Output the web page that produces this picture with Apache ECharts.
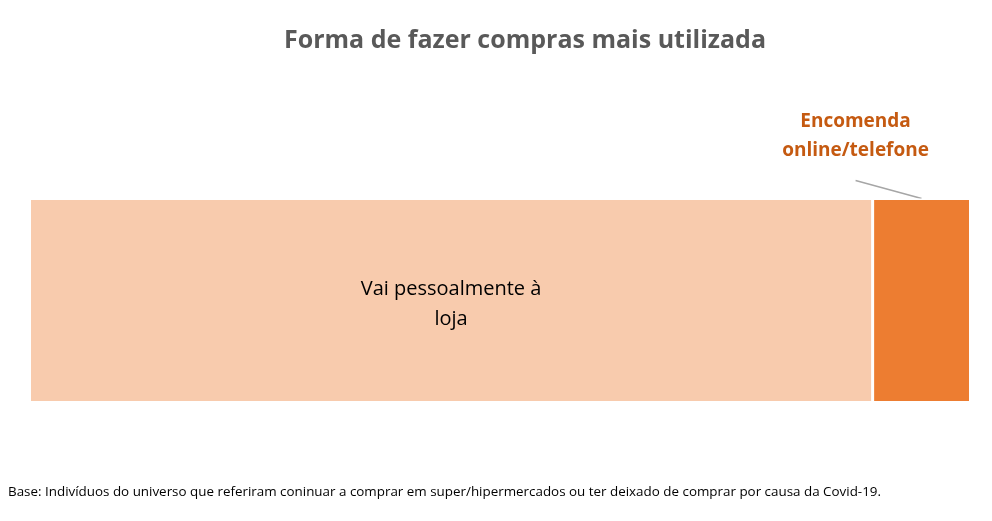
<!DOCTYPE html>
<html>
<head>
<meta charset="utf-8">
<script src="https://cdn.jsdelivr.net/npm/echarts@6/dist/echarts.min.js"></script>
<style>
  html, body { margin: 0; padding: 0; background: #fff; }
  #Bar { width: 992px; height: 521px; }
</style>
</head>
<body>
<div id="Bar"></div>
<script>
// dados
var categorias = ["Forma"];
var nomes = ["Vai pessoalmente à\nloja", "Encomenda\nonline/telefone"];
var valores = [89.6, 10.4];
var cores = ["#F8CBAD", "#ED7D31"];
var nota = 'Base: Indivíduos do universo que referiram coninuar a comprar em super/hipermercados ou ter deixado de comprar por causa da Covid-19.';

var Echarts = echarts.init(document.getElementById("Bar"))
Echarts.setOption({
	//titulo
	title: {
		text: 'Forma de fazer compras mais utilizada',
		left: 279,
		top: 23,
		textStyle: {
			color: '#595959',
			fontFamily: 'Open Sans',
			fontWeight: 'bold',
			fontSize: 25
		}
	},
	grid: { left: 29.5, right: 21.5, top: 198.5, bottom: 118.5 },
	xAxis: { type: 'value', min: 0, max: 100, show: false },
	yAxis: { type: 'category', data: categorias, show: false },
	series: [
		{
			name: nomes[0],
			type: 'bar',
			stack: 'total',
			barWidth: '100%',
			data: [valores[0]],
			itemStyle: { color: cores[0], borderColor: '#fff', borderWidth: 1.5 },
			label: {
				show: true,
				position: 'inside',
				offset: [0, 4],
				formatter: nomes[0],
				color: '#000',
				fontFamily: 'Open Sans',
				fontSize: 20,
				lineHeight: 30
			}
		},
		{
			name: nomes[1],
			type: 'bar',
			stack: 'total',
			data: [valores[1]],
			itemStyle: { color: cores[1], borderColor: '#fff', borderWidth: 1.5 },
			label: {
				show: true,
				position: 'top',
				formatter: nomes[1],
				color: '#C55A11',
				fontFamily: 'Open Sans',
				fontWeight: 'bold',
				fontSize: 19,
				lineHeight: 29
			},
			labelLayout: { dx: -66, dy: -28 }
		}
	]
})

// nota de rodapé + linha de ligação da etiqueta ao centro da barra
var xMeio = Echarts.convertToPixel({ xAxisIndex: 0 }, valores[0] + valores[1] / 2)
var yTopo = Echarts.getModel().getComponent('grid').coordinateSystem.getRect().y
Echarts.setOption({
	graphic: [
		{
			type: 'text',
			left: 8,
			top: 486,
			style: {
				text: nota,
				fill: '#000',
				fontFamily: 'Open Sans',
				fontSize: 13.4
			}
		},
		{
			type: 'line',
			shape: { x1: xMeio - 66, y1: yTopo - 18, x2: xMeio, y2: yTopo },
			style: { stroke: '#A6A6A6', lineWidth: 1.5 }
		}
	]
})
</script>
</body>
</html>
